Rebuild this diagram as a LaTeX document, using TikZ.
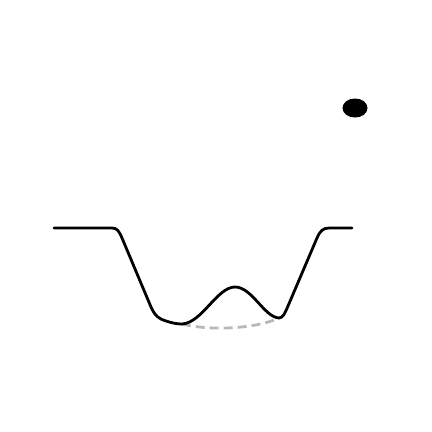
\documentclass[tikz,border=0pt]{standalone}
\usetikzlibrary{shapes.geometric}
\begin{document}
\begin{tikzpicture}[x=1pt,y=-1pt,
  curveline/.style={line width=2.8pt,black,line join=round,line cap=round},
  ghostline/.style={line width=2.8pt,color=black!28,dash pattern=on 9pt off 5pt}]
\useasboundingbox (0,0) rectangle (432,432);
\coordinate (ls) at (54,228);
\coordinate (rs) at (352,228);
\coordinate (bl) at (182,324);
\coordinate (br) at (279,318);
\draw[ghostline] (bl) .. controls (210,331) and (255,329) .. (br);
\draw[curveline] (ls) -- (112,228) .. controls (117,228) and (119,231) .. (122,238)
  -- (151,307) .. controls (155,316) and (159,319) .. (166,321)
  .. controls (172,323) and (177,324) .. (bl)
  .. controls (202,323) and (217,287) .. (235,287)
  .. controls (252,287) and (264,317) .. (br)
  .. controls (283,318) and (285,313) .. (288,306)
  -- (317,238) .. controls (320,231) and (323,228) .. (329,228) -- (rs);
\node[ellipse,fill=black,minimum width=25pt,minimum height=19pt,inner sep=0pt] (dot) at (355,108) {};
\end{tikzpicture}
\end{document}
